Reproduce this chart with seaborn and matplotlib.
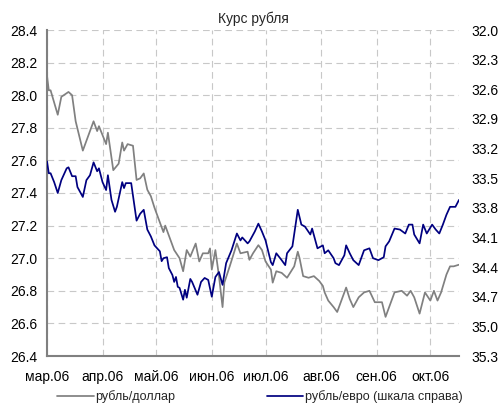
import numpy as np
import pandas as pd
import seaborn as sns
import matplotlib
matplotlib.use("Agg")
import matplotlib.pyplot as plt
from matplotlib.ticker import FormatStrFormatter

# ruble / dollar (left scale)
usd_dates = ["2006-03-01", "2006-03-02", "2006-03-03", "2006-03-07", "2006-03-09", "2006-03-13", "2006-03-15",
             "2006-03-17", "2006-03-21", "2006-03-24", "2006-03-27", "2006-03-29", "2006-03-30",
             "2006-04-03", "2006-04-04", "2006-04-07", "2006-04-10", "2006-04-12", "2006-04-13", "2006-04-15",
             "2006-04-18", "2006-04-20", "2006-04-22", "2006-04-24", "2006-04-26", "2006-04-28", "2006-04-30",
             "2006-05-04", "2006-05-05", "2006-05-06", "2006-05-09", "2006-05-11", "2006-05-14", "2006-05-16",
             "2006-05-18", "2006-05-20", "2006-05-23", "2006-05-25", "2006-05-27", "2006-05-30", "2006-05-31",
             "2006-06-01", "2006-06-03", "2006-06-05", "2006-06-07", "2006-06-08", "2006-06-11", "2006-06-15",
             "2006-06-17", "2006-06-21", "2006-06-22", "2006-06-24", "2006-06-27", "2006-06-29",
             "2006-07-01", "2006-07-04", "2006-07-05", "2006-07-07", "2006-07-10", "2006-07-13", "2006-07-17",
             "2006-07-19", "2006-07-20", "2006-07-22", "2006-07-25", "2006-07-28", "2006-07-31",
             "2006-08-02", "2006-08-03", "2006-08-05", "2006-08-08", "2006-08-10", "2006-08-13", "2006-08-15",
             "2006-08-17", "2006-08-19", "2006-08-22", "2006-08-25", "2006-08-28", "2006-08-31",
             "2006-09-04", "2006-09-06", "2006-09-08", "2006-09-11", "2006-09-15", "2006-09-18", "2006-09-20",
             "2006-09-22", "2006-09-25", "2006-09-28",
             "2006-10-01", "2006-10-03", "2006-10-05", "2006-10-07", "2006-10-10", "2006-10-12", "2006-10-14",
             "2006-10-17"]
usd_rate = [28.12, 28.03, 28.03, 27.88, 27.99, 28.02, 28.00, 27.84, 27.66, 27.75, 27.84, 27.78, 27.81,
            27.70, 27.77, 27.54, 27.58, 27.71, 27.66, 27.70, 27.69, 27.48, 27.49, 27.52, 27.42, 27.38, 27.31,
            27.19, 27.16, 27.20, 27.11, 27.05, 27.00, 26.92, 27.05, 27.01, 27.09, 26.98, 27.03, 27.03, 27.06,
            26.93, 27.05, 26.89, 26.70, 26.85, 26.95, 27.09, 27.03, 27.04, 26.99, 27.03, 27.08, 27.05,
            26.98, 26.93, 26.85, 26.92, 26.91, 26.88, 26.95, 27.04, 27.00, 26.89, 26.88, 26.89, 26.86,
            26.83, 26.79, 26.74, 26.70, 26.67, 26.76, 26.82, 26.75, 26.70, 26.76, 26.79, 26.80, 26.73,
            26.73, 26.64, 26.70, 26.79, 26.80, 26.77, 26.80, 26.76, 26.66, 26.79,
            26.74, 26.80, 26.74, 26.79, 26.90, 26.95, 26.95, 26.96]

# ruble / euro (right scale, inverted)
eur_dates = ["2006-03-01", "2006-03-02", "2006-03-03", "2006-03-05", "2006-03-07", "2006-03-09", "2006-03-12",
             "2006-03-13", "2006-03-15", "2006-03-17", "2006-03-18", "2006-03-21", "2006-03-23", "2006-03-25",
             "2006-03-27", "2006-03-29", "2006-03-30",
             "2006-04-01", "2006-04-03", "2006-04-04", "2006-04-06", "2006-04-08", "2006-04-09", "2006-04-12",
             "2006-04-13", "2006-04-14", "2006-04-17", "2006-04-20", "2006-04-22", "2006-04-24", "2006-04-26",
             "2006-04-28", "2006-04-30",
             "2006-05-03", "2006-05-04", "2006-05-05", "2006-05-07", "2006-05-08", "2006-05-10", "2006-05-11",
             "2006-05-12", "2006-05-13", "2006-05-14", "2006-05-16", "2006-05-17", "2006-05-18", "2006-05-20",
             "2006-05-21", "2006-05-24", "2006-05-26", "2006-05-28", "2006-05-30",
             "2006-06-01", "2006-06-03", "2006-06-05", "2006-06-07", "2006-06-09", "2006-06-12", "2006-06-15",
             "2006-06-17", "2006-06-18", "2006-06-21", "2006-06-22", "2006-06-25", "2006-06-27", "2006-06-29",
             "2006-07-01", "2006-07-04", "2006-07-05", "2006-07-07", "2006-07-10", "2006-07-12", "2006-07-13",
             "2006-07-16", "2006-07-19", "2006-07-21", "2006-07-23", "2006-07-26", "2006-07-27", "2006-07-30",
             "2006-08-02", "2006-08-03", "2006-08-05", "2006-08-08", "2006-08-09", "2006-08-11", "2006-08-14",
             "2006-08-15", "2006-08-17", "2006-08-19", "2006-08-22", "2006-08-25", "2006-08-28", "2006-08-30",
             "2006-09-02", "2006-09-05", "2006-09-06", "2006-09-08", "2006-09-11", "2006-09-14", "2006-09-17",
             "2006-09-19", "2006-09-21", "2006-09-22", "2006-09-25", "2006-09-27", "2006-09-29",
             "2006-10-02", "2006-10-04", "2006-10-06", "2006-10-08", "2006-10-10", "2006-10-12", "2006-10-15",
             "2006-10-17"]
eur_rate = [33.33, 33.45, 33.45, 33.54, 33.65, 33.52, 33.40, 33.39, 33.48, 33.48, 33.59, 33.69, 33.52, 33.47,
            33.34, 33.43, 33.40,
            33.54, 33.62, 33.47, 33.72, 33.84, 33.79, 33.54, 33.60, 33.55, 33.55, 33.93, 33.86, 33.82, 34.02,
            34.09, 34.18,
            34.24, 34.34, 34.31, 34.30, 34.41, 34.48, 34.55, 34.50, 34.60, 34.61, 34.73, 34.63, 34.71, 34.52,
            34.55, 34.68, 34.55, 34.51, 34.53,
            34.70, 34.50, 34.45, 34.58, 34.36, 34.23, 34.06, 34.13, 34.10, 34.16, 34.14, 34.04, 33.96, 34.04,
            34.13, 34.35, 34.38, 34.26, 34.33, 34.38, 34.26, 34.19, 33.82, 33.97, 33.99, 34.07, 34.01, 34.21,
            34.18, 34.26, 34.23, 34.31, 34.36, 34.38, 34.28, 34.18, 34.26, 34.33, 34.38, 34.23, 34.21, 34.31,
            34.33, 34.30, 34.19, 34.14, 34.01, 34.02, 34.06, 33.97, 33.97, 34.07, 34.16, 33.97, 34.06,
            33.97, 34.02, 34.06, 33.97, 33.87, 33.79, 33.79, 33.72]

month_starts = ["2006-03-01", "2006-04-01", "2006-05-01", "2006-06-01",
                "2006-07-01", "2006-08-01", "2006-09-01", "2006-10-01"]
month_labels = ["мар.06", "апр.06", "май.06", "июн.06", "июл.06", "авг.06", "сен.06", "окт.06"]
left_ticks = [26.4, 26.6, 26.8, 27.0, 27.2, 27.4, 27.6, 27.8, 28.0, 28.2, 28.4]
right_ticks = [32.0, 32.3, 32.6, 32.9, 33.2, 33.5, 33.8, 34.1, 34.4, 34.7, 35.0, 35.3]

sns.set_style("white")
plt.rcParams['font.family'] = ['Liberation Sans', 'DejaVu Sans']

usd = pd.DataFrame({"date": pd.to_datetime(usd_dates), "rate": usd_rate})
eur = pd.DataFrame({"date": pd.to_datetime(eur_dates), "rate": eur_rate})

fig = plt.figure(figsize=(4.99, 4.03), dpi=100)
ax = fig.add_axes([47 / 499, 1 - 356 / 403, 412 / 499, 326 / 403])
ax2 = ax.twinx()

sns.lineplot(data=usd, x="date", y="rate", ax=ax, color="#808080", lw=1.25, legend=False)
sns.lineplot(data=eur, x="date", y="rate", ax=ax2, color="#000080", lw=1.25, legend=False)

# axes ranges
ax.set_xlim(pd.Timestamp("2006-03-01"), pd.Timestamp("2006-10-17"))
ax.set_ylim(left_ticks[0], left_ticks[-1])
ax2.set_ylim(right_ticks[-1], right_ticks[0])

ax.set_xticks(pd.to_datetime(month_starts))
ax.set_xticklabels(month_labels)
ax.set_yticks(left_ticks)
ax.yaxis.set_major_formatter(FormatStrFormatter('%.1f'))
ax2.set_yticks(right_ticks)
ax2.yaxis.set_major_formatter(FormatStrFormatter('%.1f'))

ax.set_xlabel("")
ax.set_ylabel("")
ax2.set_ylabel("")

ax.grid(True, color="#c8c8c8", linestyle=(0, (6, 4)), lw=0.8)
ax.tick_params(axis="x", length=0, pad=10, labelsize=10, colors="black")
ax.tick_params(axis="y", length=0, pad=7, labelsize=10, colors="black")
ax2.tick_params(axis="y", length=0, pad=9, labelsize=10, colors="black")

for s in ["top", "right"]:
    ax.spines[s].set_visible(False)
for s in ["left", "bottom"]:
    ax.spines[s].set_color("#808080")
    ax.spines[s].set_linewidth(1.5)
for s in ax2.spines.values():
    s.set_visible(False)

ax.set_title("Курс рубля", fontsize=10, pad=5)

handles = [ax.get_lines()[0], ax2.get_lines()[0]]
fig.legend(handles, ["рубль/доллар", "рубль/евро (шкала справа)"],
           loc="center", bbox_to_anchor=(260 / 499, 1 - 397 / 403), ncol=2, frameon=False,
           fontsize=9, handlelength=2.9, handletextpad=0.15, columnspacing=7.3, borderaxespad=0)

fig.savefig("out.png", dpi=100)
